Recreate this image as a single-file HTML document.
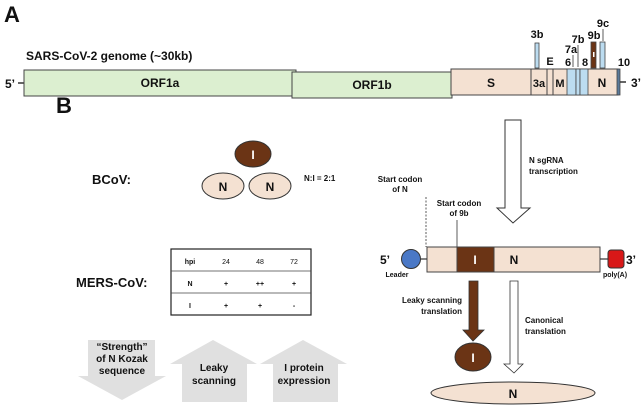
<!DOCTYPE html>
<html><head><meta charset="utf-8"><style>
body{margin:0;background:#fff}
svg text{font-family:"Liberation Sans",Arial,sans-serif;font-weight:bold;fill:#111}
</style></head><body>
<svg width="643" height="406" viewBox="0 0 643 406" xmlns="http://www.w3.org/2000/svg">
<text x="4" y="22" font-size="22">A</text>
<text x="26" y="60" font-size="12">SARS-CoV-2 genome (~30kb)</text>
<text x="5" y="88" font-size="12">5’</text>
<line x1="18" y1="83" x2="24" y2="83" stroke="#333" stroke-width="1.5"/>
<rect x="24" y="70" width="272" height="26" fill="#dcefd0" stroke="#444"/>
<text x="160" y="87" font-size="12" text-anchor="middle">ORF1a</text>
<rect x="292" y="72" width="160" height="26" fill="#dcefd0" stroke="#444"/>
<text x="372" y="89" font-size="12" text-anchor="middle">ORF1b</text>
<rect x="451" y="69" width="167" height="26" fill="#f4e1d2" stroke="#444"/>
<line x1="531" y1="69" x2="531" y2="95" stroke="#444"/>
<line x1="547" y1="69" x2="547" y2="95" stroke="#444"/>
<line x1="553" y1="69" x2="553" y2="95" stroke="#444"/>
<rect x="567" y="69" width="9" height="26" fill="#bcdcf0" stroke="#444" stroke-width=".8"/>
<rect x="576" y="69" width="4" height="26" fill="#bcdcf0" stroke="#444" stroke-width=".8"/>
<rect x="580" y="69" width="8" height="26" fill="#bcdcf0" stroke="#444" stroke-width=".8"/>
<rect x="617" y="69" width="3" height="26" fill="#5a7a9a" stroke="#444" stroke-width=".8"/>
<line x1="620" y1="82" x2="626" y2="82" stroke="#333" stroke-width="1.5"/>
<text x="631" y="87" font-size="12">3’</text>
<text x="491" y="87" font-size="12" text-anchor="middle">S</text>
<text x="539" y="87" font-size="11" text-anchor="middle">3a</text>
<text x="560" y="87" font-size="11" text-anchor="middle">M</text>
<text x="602" y="87" font-size="12" text-anchor="middle">N</text>
<rect x="535" y="43" width="4" height="25" fill="#bcdcf0" stroke="#444" stroke-width=".8"/>
<text x="537" y="38" font-size="11" text-anchor="middle">3b</text>
<text x="550" y="65" font-size="11" text-anchor="middle">E</text>
<text x="568" y="66" font-size="11" text-anchor="middle">6</text>
<line x1="573" y1="55" x2="573" y2="67" stroke="#333" stroke-width=".8"/>
<text x="571" y="53" font-size="11" text-anchor="middle">7a</text>
<line x1="578" y1="45" x2="578" y2="67" stroke="#333" stroke-width=".8"/>
<text x="578" y="43" font-size="11" text-anchor="middle">7b</text>
<text x="585" y="66" font-size="11" text-anchor="middle">8</text>
<rect x="591" y="42" width="5" height="26" fill="#6b3415" stroke="#444" stroke-width=".8"/>
<rect x="593" y="52" width="1.5" height="5" fill="#fff"/>
<text x="594" y="39" font-size="11" text-anchor="middle">9b</text>
<rect x="600" y="42" width="5" height="26" fill="#bcdcf0" stroke="#444" stroke-width=".8"/>
<line x1="603" y1="29" x2="603" y2="41" stroke="#333" stroke-width=".8"/>
<text x="603" y="27" font-size="11" text-anchor="middle">9c</text>
<text x="624" y="66" font-size="11" text-anchor="middle">10</text>

<text x="56" y="113" font-size="22">B</text>
<text x="92" y="184" font-size="13">BCoV:</text>
<ellipse cx="253" cy="154" rx="18" ry="13" fill="#6b3415" stroke="#333"/>
<text x="253" y="159" font-size="12" text-anchor="middle" style="fill:#fff">I</text>
<ellipse cx="223" cy="186" rx="21" ry="13" fill="#f4e1d2" stroke="#333"/>
<text x="223" y="191" font-size="12" text-anchor="middle">N</text>
<ellipse cx="270" cy="186" rx="21" ry="13" fill="#f4e1d2" stroke="#333"/>
<text x="270" y="191" font-size="12" text-anchor="middle">N</text>
<text x="304" y="181" font-size="8">N:I = 2:1</text>

<text x="76" y="287" font-size="13">MERS-CoV:</text>
<rect x="171" y="249" width="140" height="66" fill="#fff" stroke="#222" stroke-width="1.2"/>
<line x1="171" y1="271" x2="311" y2="271" stroke="#444" stroke-width=".8"/>
<line x1="171" y1="293" x2="311" y2="293" stroke="#444" stroke-width=".8"/>
<g font-size="7" text-anchor="middle">
<text x="190" y="264">hpi</text><text x="226" y="264" style="font-weight:normal">24</text><text x="260" y="264" style="font-weight:normal">48</text><text x="294" y="264" style="font-weight:normal">72</text>
<text x="190" y="286">N</text><text x="226" y="286">+</text><text x="260" y="286">++</text><text x="294" y="286">+</text>
<text x="190" y="308">I</text><text x="226" y="308">+</text><text x="260" y="308">+</text><text x="294" y="308">-</text>
</g>

<polygon points="88,340 155,340 155,376 166,376 122,400 78,376 88,376" fill="#e0e0e0"/>
<polygon points="170,364 182,364 182,402 247,402 247,364 257,364 213,340" fill="#e0e0e0"/>
<polygon points="260,364 273,364 273,402 338,402 338,364 347,364 303,340" fill="#e0e0e0"/>
<g font-size="10" text-anchor="middle">
<text x="122" y="350">“Strength”</text><text x="122" y="362">of N Kozak</text><text x="122" y="374">sequence</text>
<text x="214" y="371">Leaky</text><text x="214" y="384">scanning</text>
<text x="304" y="371">I protein</text><text x="304" y="384">expression</text>
</g>

<polygon points="505,120 521,120 521,208 530,208 513,223 497,208 505,208" fill="#fff" stroke="#333"/>
<text x="529" y="163" font-size="8">N sgRNA</text>
<text x="529" y="174" font-size="8">transcription</text>
<text x="400" y="182" font-size="8" text-anchor="middle">Start codon</text>
<text x="400" y="192" font-size="8" text-anchor="middle">of N</text>
<line x1="426" y1="197" x2="426" y2="247" stroke="#333" stroke-dasharray="2,1.5" stroke-width=".8"/>
<text x="459" y="206" font-size="8" text-anchor="middle">Start codon</text>
<text x="459" y="216" font-size="8" text-anchor="middle">of 9b</text>
<line x1="457" y1="220" x2="457" y2="247" stroke="#333" stroke-width=".8"/>

<rect x="427" y="247" width="173" height="25" fill="#f4e1d2" stroke="#444"/>
<rect x="457" y="247" width="37" height="25" fill="#6b3415" stroke="#444"/>
<text x="475" y="264" font-size="12" text-anchor="middle" style="fill:#fff">I</text>
<text x="514" y="264" font-size="12" text-anchor="middle">N</text>
<line x1="420" y1="259" x2="427" y2="259" stroke="#333" stroke-width="1.2"/>
<circle cx="411" cy="259" r="9.5" fill="#4a78c6" stroke="#333"/>
<line x1="600" y1="259" x2="608" y2="259" stroke="#333" stroke-width="1.2"/>
<rect x="608" y="250" width="16" height="18" rx="3" fill="#d81818" stroke="#333"/>
<text x="380" y="264" font-size="12">5’</text>
<text x="626" y="264" font-size="12">3’</text>
<text x="397" y="277" font-size="7" text-anchor="middle">Leader</text>
<text x="615" y="277" font-size="7" text-anchor="middle">poly(A)</text>

<polygon points="469,281 478,281 478,330 484,330 473,341 463,330 469,330" fill="#6b3415" stroke="#333" stroke-width=".8"/>
<text x="462" y="303" font-size="8" text-anchor="end">Leaky scanning</text>
<text x="462" y="314" font-size="8" text-anchor="end">translation</text>
<ellipse cx="473" cy="357" rx="18" ry="14" fill="#6b3415" stroke="#333"/>
<text x="473" y="362" font-size="12" text-anchor="middle" style="fill:#fff">I</text>
<polygon points="510,281 518,281 518,364 523,364 514,373 504,364 510,364" fill="#fff" stroke="#333" stroke-width=".8"/>
<text x="525" y="323" font-size="8">Canonical</text>
<text x="525" y="334" font-size="8">translation</text>
<ellipse cx="513" cy="393" rx="82" ry="11" fill="#f4e1d2" stroke="#333"/>
<text x="513" y="398" font-size="12" text-anchor="middle">N</text>
</svg>
</body></html>
